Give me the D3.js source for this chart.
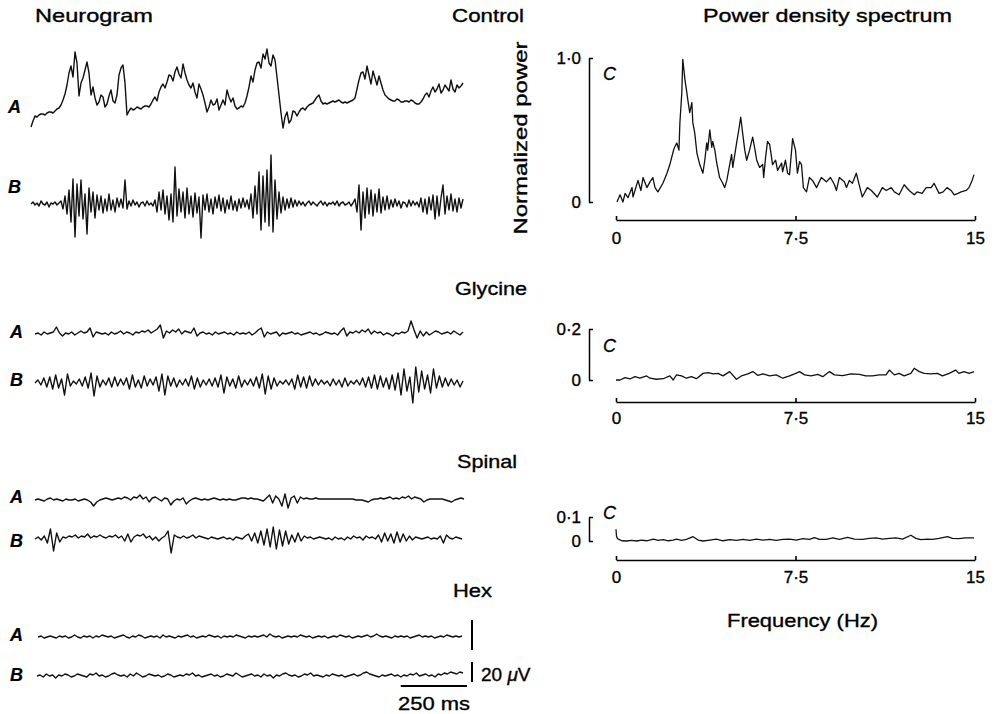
<!DOCTYPE html>
<html>
<head>
<meta charset="utf-8">
<script src="https://cdn.jsdelivr.net/npm/d3@7"></script>
<style>
  body { margin: 0; background: #fff; }
  svg text { font-family: 'Liberation Sans', Arial, Helvetica, sans-serif; fill: #000; }
</style>
</head>
<body>
<div id="chart"></div>
<script>
// neurogram traces, amplitude in uV (positive = up), evenly spaced over TRACE_MS
const TRACE_MS = 1600;

const controlA = [-2, 4, 9, 8, 10, 11, 11, 10, 12, 13, 13, 12, 14, 16, 17, 20, 25, 31, 40, 52,
  59, 48, 73, 62, 29, 42, 47, 55, 63, 52, 30, 38, 27, 20, 23, 30, 28, 18, 21, 29,
  35, 24, 22, 30, 50, 57, 60, 42, 10, 14, 17, 15, 16, 18, 17, 16, 18, 19, 19, 18,
  21, 25, 28, 24, 33, 38, 41, 37, 43, 50, 49, 44, 53, 58, 51, 47, 61, 52, 45, 40,
  37, 42, 33, 27, 41, 36, 30, 22, 13, 18, 25, 20, 21, 26, 15, 20, 25, 20, 35, 28,
  23, 27, 19, 16, 17, 19, 18, 22, 29, 38, 49, 43, 55, 62, 63, 57, 71, 66, 76, 62,
  59, 70, 65, 48, 30, 12, -3, 8, 13, 2, 5, 14, 13, 9, 13, 16, 17, 15, 18, 20,
  21, 22, 25, 28, 30, 24, 21, 22, 21, 22, 23, 24, 23, 24, 25, 23, 22, 23, 22, 23,
  24, 25, 27, 36, 45, 52, 53, 46, 59, 50, 41, 54, 47, 40, 49, 42, 35, 30, 28, 26,
  25, 24, 24, 26, 25, 23, 23, 24, 24, 23, 25, 24, 22, 21, 21, 23, 26, 30, 32, 28,
  34, 38, 33, 36, 41, 32, 35, 40, 37, 34, 45, 36, 33, 40, 37, 39, 42];

const controlB = [0, 2, -1, 1, -2, 3, 0, -1, 2, -3, 1, 0, 2, -1, 1,
  3, -5, 8, -10, 14, -18, 25, -33, 20, -12, 24, -15, 10, -30, 16, -8, 12, -14, 9, -6,
  8, -9, 5, -7, 10, -6, 4, -8, 6, -3,
  5, -4, 24, -5,
  3, -2, 4, -1, 2, -3, 1, 2, -2, 3, -1, 1, -2,
  4, -8, 12, -6, 14, -10, 8, -16, 10, -18, 37, -12, 15, -8, 12, -14, 16, -10, 8, -13, 11, -9, 7,
  -34, 9, -6, 10, -8, 5, -10, 7, -4, 9, -7, 6, -9, 4, -5, 8, -6, 3, -7, 5, -4, 6, -3, 4, -5,
  10, -14, 18, -10, 32, -26, 28, -18, 34, -22, 49, -28, 24, -15, 12, -9,
  7, -6, 5, -4, 6, -3, 4, -2, 3,
  -1, 2, -2, 1, 3, -1, 2, 0, -2, 1, 3, -1, 2, -2, 1, 0, 2, -1, 3, -2, 1, 2, -1, 0, 2, -2, 1,
  5, -8, 19, -26, 12, -14, 16, -10, 14, -12, 10, -8, 15, -9, 7, -6, 8, -5,
  4, -3, 5, -2, 3, -4, 2, 1, -3, 4, -2, 3, -1, 2, -3,
  6, -8, 5, -10, 7, -6, 9, -15, 8, -12, 6, 19, -10, 8, -6, 10, -7, 5, -8, 6, -4, 5];

const glycineA = [0, 1, -1, 2, 0, 1, 2, 7, 1, -2, 1, 0, 2, -1, 1, 3, 1, 2, 6, -3,
  2, 1, 0, 1, -1, 2, 0, 1, 3, 0, 2, 1, -1, 2, 1, 3, 2, 4, 1, 3,
  5, 9, -4, 3, 1, 4, 2, 5, 0, 3, 2, 1, 6, -2, 1, 2, 0, 1, -1, 2,
  0, 1, 2, 0, 1, -1, 2, 0, 1, 0, 2, -1, 1, 4, 6, -3, 2, 0, 1, 2,
  -2, 1, 0, 1, 2, 0, 1, -1, 0, 1, 2, 0, 1, -1, 0, 2, 1, 0, 1, -1,
  3, 6, -2, 2, 1, 3, 1, 4, 2, 5, 0, 3, 1, 2, -1, 1, 0, -2, 1, 0,
  2, 1, 3, 13, 4, -4, 3, -2, 2, -1, 1, 3, 2, 0, 1, 2, 0, 3, 1, -1, 2];

const glycineB = [0, 3, -2, 5, -4, 6, -6, 8, -5, 4, -12, 9, -3, 2, -1, 4, -3, 6, -5, 10,
  -13, 7, -4, 3, -2, 5, -4, 6, -3, 4, -2, 5, -6, 8, -4, 3, -5, 7, -3, 4,
  -2, 6, -8, 9, -12, 7, -3, 5, -4, 3, -2, 4, -3, 7, -6, 5, -4, 3, -2, 4,
  -3, 5, -4, 8, -10, 6, -3, 4, -5, 7, -4, 3, -2, 4, -3, 6, -5, 9, -11, 7,
  -6, 5, -3, 2, -1, 3, -2, 4, -6, 8, -4, 6, -5, 7, -3, 4, -2, 3, -1, 2,
  -3, 4, -2, 3, -4, 5, -3, 2, -1, 3, -2, 5, -4, 6, -5, 8, -6, 7, -4, 5,
  -6, 8, -7, 10, -12, 14, -8, 6, -20, 16, -9, 12, -6, 8, -10, 14, -5, 7, -4, 5,
  -3, 4, -2, 3, -4, 2];

const spinalA = [0, 1, 0, -1, 1, 2, 0, 1, 0, -1, 1, 0, 0, 1, -1, 0, 1, 0, -2, -6,
  -2, 0, 1, 2, 1, 0, 1, 2, 1, 3, 2, 0, 3, 2, 5, 1, 3, -2, 2, 3,
  1, -1, 2, 1, -5, -1, 1, 0, 2, -4, -1, 1, 2, 1, 0, 1, 0, 1, 2, 1,
  0, 1, 0, 1, 0, 0, 1, 2, 2, 1, 2, 1, 1, 0, -1, 2, 5, -3, 4, 1,
  -6, 6, -8, 2, 4, -3, 3, 1, 2, 1, 1, 2, 1, 1, 1, 1, 1, 1, 1, 1,
  1, 1, 1, 1, 0, 0, 0, -1, -2, 0, 1, 1, 2, 1, 2, 3, 1, 2, 1, 3,
  2, 4, 1, 3, 2, 1, -2, 0, 1, 1, 1, 1, 1, 0, -1, -2, 0, 1, 2, 1];

const spinalB = [0, 2, -1, 3, -4, 10, -12, 6, -3, 2, 1, 3, 2, 4, 1, 3, 2, 5, 1, 3,
  2, 4, 2, 1, 3, 2, 4, 1, 3, -2, 5, -3, 2, 4, 3, 5, 1, 3, -1, 2,
  -2, 1, 3, 8, -14, 4, 2, 1, 3, 1, 2, 4, 1, 3, 2, 1, 0, 2, 1, 0,
  1, 2, 0, 1, -1, 2, 1, 0, 3, 5, -2, 6, -4, 8, -6, 10, -8, 12, -10, 9,
  -7, 8, -5, 4, -3, 6, -2, 3, 1, 2, 0, 1, 2, 1, 0, 1, -1, 2, 0, 1,
  -1, 2, 0, 3, 1, 2, -1, 3, 1, 2, 0, 4, -3, 6, -2, 5, -4, 7, -3, 5,
  -2, 3, -1, 2, 1, 0, 1, 2, 0, 1, 0, 3, -4, 4, 1, 0, 2, 1, 0];

const hexA = [0, 1, -1, 0, 1, 0, -1, 1, 0, 1, -1, 0, 2, 0, -1, 1, 0, 1, -1, 1,
  0, 2, 1, 0, 1, -1, 0, 1, 2, 0, -1, 1, 0, 2, 1, -1, 0, 1, 0, 1,
  -1, 2, 0, 1, 0, -1, 1, 0, 1, 2, 0, 1, -1, 0, 1, 0, 2, 1, 0, 1,
  -1, 1, 0, 1, 0, 2, 1, 0, -1, 1, 0, 1, 0, 1, 2, 0, 3, 1, 0, 1,
  -1, 0, 1, 0, 1, 0, 2, 1, 0, 1, -1, 0, 1, 0, 1, -1, 0, 1, 0, 2,
  1, 0, 1, -1, 0, 1, 0, 1, 2, 0, 1, 3, 1, 0, 1, 0, -1, 1, 0, 1,
  0, 1, -1, 0, 1, 2, 0, 1, 0, 1, -1, 0, 1, 0, 2, 1, 0, 1, 0, 1];

const hexB = [0, 1, -1, 2, 0, 1, -2, 1, 0, 2, 1, -1, 0, 2, 1, 0, -1, 2, 1, 3,
  0, 1, -1, 0, 2, 3, 1, 0, 1, -1, 2, 0, 3, 1, -1, 0, 2, 1, 0, 1,
  -1, 0, 2, 1, -1, 0, 1, 0, 2, 1, 3, 0, 1, -1, 0, 1, 2, 0, 1, -1,
  0, 2, 1, 0, 3, 1, -1, 0, 1, 2, 0, 1, -1, 2, 0, 1, -2, 1, 0, 2,
  3, 1, 0, 1, -1, 0, 2, 1, 3, 0, 1, 0, -1, 1, 0, 2, 1, 0, 1, -1,
  0, 1, 2, 0, 1, 3, 4, 2, 1, 0, -1, 1, 0, 1, 2, 0, 1, -1, 1, 0,
  2, 1, 3, 0, 1, 2, 0, 1, -1, 2, 1, 3, 2, 4, 3, 2, 4, 3];

// power density spectra (Hz, normalized power)
const controlFreq = [0.04, 0.17, 0.29, 0.38, 0.5, 0.67, 0.71, 0.92, 1.04, 1.13,
  1.29, 1.42, 1.54, 1.63, 1.75, 1.96, 2.13, 2.25, 2.42, 2.54,
  2.63, 2.67, 2.75, 2.79, 2.88, 2.96, 3.0, 3.08, 3.17, 3.21,
  3.29, 3.38, 3.5, 3.63, 3.71, 3.79, 3.83, 3.92, 4.0, 4.04,
  4.13, 4.21, 4.33, 4.46, 4.54, 4.63, 4.75, 4.83, 4.88, 5.04,
  5.13, 5.21, 5.29, 5.38, 5.46, 5.58, 5.71, 5.79, 5.88, 6.0,
  6.13, 6.17, 6.25, 6.33, 6.42, 6.5, 6.54, 6.67, 6.75, 6.92,
  6.96, 7.08, 7.17, 7.25, 7.38, 7.5, 7.58, 7.67, 7.75, 7.83,
  7.96, 8.08, 8.21, 8.38, 8.58, 8.79, 8.96, 9.13, 9.21, 9.33,
  9.54, 9.63, 9.75, 9.88, 10.04, 10.13, 10.29, 10.5, 10.67, 10.92,
  11.13, 11.29, 11.5, 11.63, 11.83, 12.04, 12.25, 12.46, 12.58, 12.79,
  12.96, 13.17, 13.29, 13.5, 13.67, 13.83, 14.0, 14.13, 14.29, 14.42,
  14.63, 14.75, 14.88, 14.96];
const controlPower = [0, .05, 0, .06, .03, .1, .035, .15, .08, .17,
  .1, .14, .17, .1, .07, .13, .2, .26, .37, .41,
  .36, .55, .76, .99, .85, .76, .71, .62, .69, .55,
  .48, .34, .26, .2, .29, .41, .36, .5, .38, .42,
  .36, .27, .17, .13, .1, .15, .26, .33, .24, .41,
  .5, .59, .48, .36, .29, .36, .45, .38, .29, .24,
  .26, .17, .31, .42, .4, .31, .26, .29, .22, .27,
  .21, .29, .2, .19, .44, .36, .2, .28, .26, .1,
  .07, .17, .15, .1, .17, .14, .17, .12, .08, .17,
  .14, .1, .15, .13, .2, .14, .035, .1, .08, .035,
  .1, .08, .1, .07, .05, .12, .08, .05, .07, .06,
  .1, .1, .13, .06, .07, .1, .08, .05, .06, .07,
  .08, .1, .15, .19];

const glycineFreq = [0, 0.17, 0.38, 0.58, 0.79, 1.0, 1.28, 1.42, 1.69, 1.97,
  2.25, 2.39, 2.53, 2.74, 2.94, 3.15, 3.36, 3.64, 3.85, 4.06,
  4.26, 4.47, 4.75, 5.03, 5.24, 5.51, 5.72, 5.93, 6.14, 6.42,
  6.69, 6.97, 7.25, 7.46, 7.67, 7.88, 8.15, 8.43, 8.64, 8.92,
  9.13, 9.47, 9.82, 10.17, 10.44, 10.72, 11.0, 11.28, 11.42, 11.63,
  11.83, 12.04, 12.32, 12.46, 12.67, 12.88, 13.15, 13.43, 13.64, 13.92,
  14.19, 14.33, 14.54, 14.75, 14.96];
const glycinePower = [0, 0, .009, .004, .013, .007, .016, .007, .003, .005,
  .016, 0, .02, .016, .007, .013, .005, .026, .029, .024,
  .026, .016, .033, .003, .016, .024, .033, .018, .024, .016,
  .02, .007, .016, .024, .033, .02, .016, .022, .013, .033,
  .02, .017, .024, .022, .016, .016, .02, .02, .039, .02,
  .026, .016, .026, .046, .033, .026, .024, .026, .016, .026,
  .039, .026, .033, .026, .033];

const spinalFreq = [0, 0.02, 0.06, 0.24, 0.44, 0.65, 0.86, 1.07, 1.28, 1.56,
  1.76, 1.97, 2.18, 2.39, 2.53, 2.74, 2.94, 3.22, 3.43, 3.64,
  3.92, 4.19, 4.47, 4.75, 5.03, 5.31, 5.58, 5.86, 6.14, 6.42,
  6.69, 6.97, 7.25, 7.53, 7.81, 8.08, 8.29, 8.5, 8.78, 9.06,
  9.33, 9.68, 9.96, 10.31, 10.58, 10.86, 11.14, 11.42, 11.69, 11.97,
  12.32, 12.53, 12.74, 13.01, 13.22, 13.5, 13.85, 14.06, 14.33, 14.61,
  14.96];
const spinalPower = [.049, .021, .01, .001, 0, .003, 0, .004, .001, .008,
  .003, .006, .001, .004, .008, .003, .007, .018, .004, 0,
  .004, .008, .001, .006, .003, .007, .003, .008, .004, .007,
  .003, .007, .008, .004, .01, .007, .014, .007, .007, .013,
  .007, .015, .008, .007, .011, .013, .008, .011, .013, .008,
  .024, .011, .006, .008, .007, .011, .018, .011, .01, .013,
  .013];

const freqTicks = [0, 7.5, 15];

// ---- drawing ----
const W = 996, H = 714;
const svg = d3.select("#chart").append("svg")
  .attr("width", W).attr("height", H)
  .attr("viewBox", `0 0 ${W} ${H}`);
svg.append("rect").attr("width", W).attr("height", H).attr("fill", "#fff");

function addText(x, y, str, size, opts = {}) {
  const t = svg.append("text")
    .attr("x", x).attr("y", y)
    .attr("font-size", size)
    .attr("stroke", "#000").attr("stroke-width", opts.stroke || 0.35)
    .text(str);
  if (opts.italic) t.attr("font-style", "italic");
  if (opts.bold) t.attr("font-weight", "bold");
  if (opts.anchor) t.attr("text-anchor", opts.anchor);
  if (opts.len) t.attr("textLength", opts.len).attr("lengthAdjust", "spacingAndGlyphs");
  if (opts.rotate) t.attr("transform", `rotate(${opts.rotate},${x},${y})`);
  return t;
}

// headings
addText(35, 22, "Neurogram", 19, { len: 118 });
addText(703, 22, "Power density spectrum", 19, { len: 249 });
addText(452, 22, "Control", 19, { len: 72 });
addText(455, 295, "Glycine", 19, { len: 72 });
addText(457, 468, "Spinal", 19, { len: 60 });
addText(453, 597, "Hex", 19, { len: 39 });
addText(527, 138, "Normalized power", 19, { anchor: "middle", len: 193, rotate: -90 });
addText(727, 627, "Frequency (Hz)", 19, { len: 151 });

// amplitude scale: 20 uV
const amp = d3.scaleLinear().domain([0, 20]).range([0, 20]);

const traceRows = [
  { values: controlA, x0: 31, x1: 463, base: 125, label: "A", ly: 113, lx: 8 },
  { values: controlB, x0: 31, x1: 463, base: 204, label: "B", ly: 193, lx: 8 },
  { values: glycineA, x0: 35, x1: 463, base: 334, label: "A", ly: 338, lx: 10 },
  { values: glycineB, x0: 35, x1: 463, base: 383, label: "B", ly: 386, lx: 10 },
  { values: spinalA, x0: 35, x1: 464, base: 500, label: "A", ly: 503, lx: 10 },
  { values: spinalB, x0: 35, x1: 462, base: 539, label: "B", ly: 547, lx: 10 },
  { values: hexA, x0: 38, x1: 462, base: 637, label: "A", ly: 641, lx: 10 },
  { values: hexB, x0: 37, x1: 463, base: 676, label: "B", ly: 681, lx: 10 }
];

traceRows.forEach(function (row) {
  const x = d3.scaleLinear().domain([0, TRACE_MS]).range([row.x0, row.x1]);
  const step = TRACE_MS / (row.values.length - 1);
  const line = d3.line()
    .x(function (d, i) { return x(i * step); })
    .y(function (d) { return row.base - amp(d); });
  svg.append("path")
    .datum(row.values)
    .attr("d", line)
    .attr("fill", "none")
    .attr("stroke", "#111")
    .attr("stroke-width", 1.4)
    .attr("stroke-linejoin", "round");
  addText(row.lx, row.ly, row.label, 18, { italic: true, bold: true, stroke: 0.2 });
});

// scale bars (time and voltage), beside the Hex traces
const hexX = d3.scaleLinear().domain([0, TRACE_MS]).range([38, 462]);
const barLen = hexX(250) - hexX(0);
svg.append("line")
  .attr("x1", 467 - barLen).attr("x2", 467).attr("y1", 686).attr("y2", 686)
  .attr("stroke", "#000").attr("stroke-width", 1.8);
addText(398, 710, "250 ms", 19, { len: 72 });
svg.append("line")
  .attr("x1", 472).attr("x2", 472).attr("y1", 650).attr("y2", 650 - amp(30))
  .attr("stroke", "#000").attr("stroke-width", 2);
svg.append("line")
  .attr("x1", 472).attr("x2", 472).attr("y1", 682).attr("y2", 682 - amp(20))
  .attr("stroke", "#000").attr("stroke-width", 2);
const uv = addText(481, 681, "20 ", 19);
uv.append("tspan").attr("font-style", "italic").text("\u03bc");
uv.append("tspan").text("V");

// spectra
const fx = d3.scaleLinear().domain([0, 15]).range([616, 975]);
const dotFmt = function (d) { return String(d).replace(".", "\u00b7"); };

const spectra = [
  { freq: controlFreq, power: controlPower, top: 1.0, y0: 202, y1: 58, axisY: 220, cy: 80, pad: 12 },
  { freq: glycineFreq, power: glycinePower, top: 0.2, y0: 380, y1: 329, axisY: 402, cy: 352, pad: 10 },
  { freq: spinalFreq, power: spinalPower, top: 0.1, y0: 541, y1: 517, axisY: 560, cy: 519, pad: 11 }
];

spectra.forEach(function (s) {
  const y = d3.scaleLinear().domain([0, s.top]).range([s.y0, s.y1]);

  // bracket with power scale
  const yAxis = svg.append("g")
    .attr("transform", "translate(589,0)")
    .call(d3.axisLeft(y).tickValues([0, s.top]).tickSize(-4).tickSizeOuter(0).tickPadding(8)
      .tickFormat(function (d) { return d === 0 ? "0" : d3.format(".1f")(d).replace(".", "\u00b7"); }));
  yAxis.selectAll("path, line").attr("stroke", "#000").attr("stroke-width", 1.5);
  yAxis.selectAll("text").attr("font-size", 17).attr("font-family", null)
    .attr("stroke", "#000").attr("stroke-width", 0.35);

  // frequency axis
  const xAxis = svg.append("g")
    .attr("transform", `translate(0,${s.axisY})`)
    .call(d3.axisBottom(fx).tickValues(freqTicks).tickSize(-4).tickSizeOuter(0).tickPadding(s.pad)
      .tickFormat(dotFmt));
  xAxis.selectAll("path, line").attr("stroke", "#000").attr("stroke-width", 1.6);
  xAxis.selectAll("text").attr("font-size", 17).attr("font-family", null)
    .attr("stroke", "#000").attr("stroke-width", 0.35);

  addText(603, s.cy, "C", 18, { italic: true, stroke: 0.3 });

  const pts = s.freq.map(function (f, i) { return [f, s.power[i]]; });
  svg.append("path")
    .datum(pts)
    .attr("d", d3.line().x(function (d) { return fx(d[0]); }).y(function (d) { return y(d[1]); }))
    .attr("fill", "none")
    .attr("stroke", "#111")
    .attr("stroke-width", 1.3)
    .attr("stroke-linejoin", "round");
});
</script>
</body>
</html>
